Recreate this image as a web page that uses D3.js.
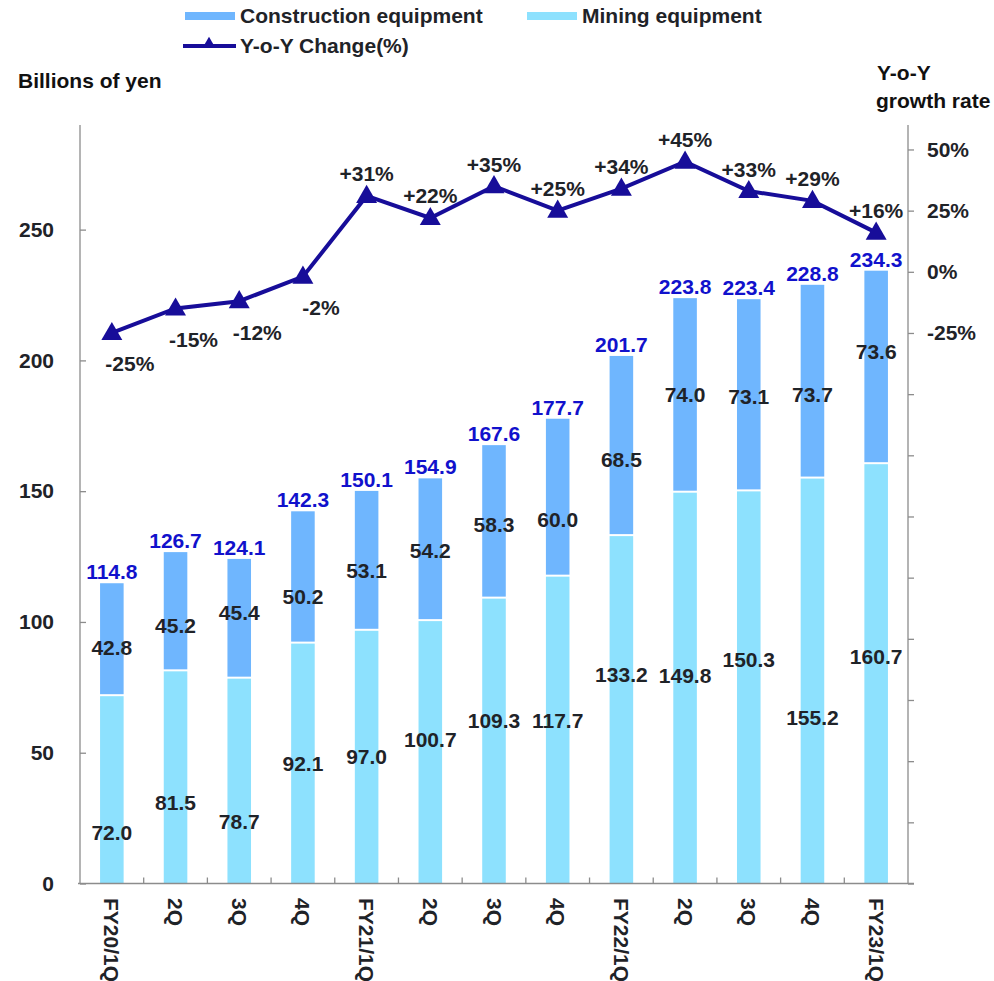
<!DOCTYPE html>
<html>
<head>
<meta charset="utf-8">
<script src="https://cdn.jsdelivr.net/npm/d3@7"></script>
<style>
  html, body { margin: 0; padding: 0; background: #fff; }
  svg { display: block; font-family: "Liberation Sans", Arial, sans-serif; font-weight: bold; }
</style>
</head>
<body>
<svg id="chart" width="994" height="981"></svg>
<script>
// Quarterly sales, billions of yen
const categories = ["FY20/1Q", "2Q", "3Q", "4Q", "FY21/1Q", "2Q", "3Q", "4Q", "FY22/1Q", "2Q", "3Q", "4Q", "FY23/1Q"];
const mining = [72.0, 81.5, 78.7, 92.1, 97.0, 100.7, 109.3, 117.7, 133.2, 149.8, 150.3, 155.2, 160.7];
const construction = [42.8, 45.2, 45.4, 50.2, 53.1, 54.2, 58.3, 60.0, 68.5, 74.0, 73.1, 73.7, 73.6];
const totals = [114.8, 126.7, 124.1, 142.3, 150.1, 154.9, 167.6, 177.7, 201.7, 223.8, 223.4, 228.8, 234.3];
const yoy = [-25, -15, -12, -2, 31, 22, 35, 25, 34, 45, 33, 29, 16];
const leftTicks = [0, 50, 100, 150, 200, 250];
const rightTicks = [-250, -225, -200, -175, -150, -125, -100, -75, -50, -25, 0, 25, 50];
const rightLabelled = [-25, 0, 25, 50];

// Where each value label sits inside its segment (0 = bottom, 1 = top)
const miningLabelAt = [0.27, 0.38, 0.30, 0.50, 0.50, 0.545, 0.57, 0.53, 0.60, 0.53, 0.57, 0.41, 0.54];
const constructionLabelAt = [0.43, 0.38, 0.55, 0.35, 0.43, 0.49, 0.48, 0.36, 0.42, 0.50, 0.49, 0.43, 0.58];

const colConstruction = "#6fb6fe";
const colMining = "#8de1fe";
const colLine = "#170d99";
const colTotal = "#1111cc";
const colText = "#1f2328";
const colAxis = "#8c8c8c";
const fontSize = 21;

const svg = d3.select("#chart");
const plotLeft = 80, plotRight = 908, plotTop = 125, plotBottom = 883.5;

const x = d3.scaleBand().domain(d3.range(categories.length)).range([plotLeft, plotRight])
  .paddingInner(0.63).paddingOuter(0.315);
const y = d3.scaleLinear().domain([0, 290]).range([plotBottom, plotTop]);
const y2 = d3.scaleLinear().domain([-250, 60]).range([plotBottom, plotTop]);
const cx = i => x(i) + x.bandwidth() / 2;

// Stacked bars: mining at the bottom, construction above, thin white gap between
const g = svg.append("g");
g.selectAll("rect.mining").data(mining).join("rect")
  .attr("class", "mining")
  .attr("x", (d, i) => x(i)).attr("width", x.bandwidth())
  .attr("y", d => y(d) + 1).attr("height", d => y(0) - y(d) - 1)
  .attr("fill", colMining);
g.selectAll("rect.construction").data(construction).join("rect")
  .attr("class", "construction")
  .attr("x", (d, i) => x(i)).attr("width", x.bandwidth())
  .attr("y", (d, i) => y(mining[i] + d)).attr("height", (d, i) => y(mining[i]) - y(mining[i] + d) - 1)
  .attr("fill", colConstruction);

// Value axes
const axL = d3.axisLeft(y).tickValues(leftTicks).tickSize(-6).tickPadding(26).tickFormat(d3.format("d"));
const gl = svg.append("g").attr("transform", `translate(${plotLeft},0)`).call(axL);
gl.select(".domain").attr("d", `M0,${plotTop}V${plotBottom}`);

const axR = d3.axisRight(y2).tickValues(rightTicks).tickSize(6).tickPadding(13)
  .tickFormat(d => (rightLabelled.includes(d) ? d + "%" : ""));
const gr = svg.append("g").attr("transform", `translate(${plotRight},0)`).call(axR);
gr.select(".domain").attr("d", `M0,${plotTop}V${plotBottom}`);

[gl, gr].forEach(a => {
  a.selectAll(".domain, .tick line").attr("stroke", colAxis).attr("stroke-width", 1.3);
  a.selectAll(".tick text").attr("fill", colText).attr("font-size", fontSize)
    .attr("font-family", "Liberation Sans, Arial, sans-serif").attr("font-weight", "bold");
});

// Category axis
const gx = svg.append("g");
gx.append("line").attr("x1", plotLeft - 2).attr("x2", plotRight + 6).attr("y1", plotBottom).attr("y2", plotBottom)
  .attr("stroke", colAxis).attr("stroke-width", 1.3);
gx.selectAll("line.sep").data(d3.range(1, categories.length)).join("line")
  .attr("class", "sep")
  .attr("x1", k => plotLeft + k * x.step()).attr("x2", k => plotLeft + k * x.step())
  .attr("y1", plotBottom).attr("y2", plotBottom - 6)
  .attr("stroke", colAxis).attr("stroke-width", 1.3);
gx.selectAll("text").data(categories).join("text")
  .attr("transform", (d, i) => `translate(${cx(i)},898) rotate(90)`)
  .attr("text-anchor", "start").attr("dominant-baseline", "central")
  .attr("font-size", fontSize).attr("fill", colText).text(d => d);

// Segment value labels
svg.append("g").selectAll("text").data(mining).join("text")
  .attr("x", (d, i) => cx(i)).attr("y", (d, i) => y(d * miningLabelAt[i]))
  .attr("text-anchor", "middle").attr("dominant-baseline", "central")
  .attr("font-size", fontSize).attr("fill", colText).text(d => d.toFixed(1));
svg.append("g").selectAll("text").data(construction).join("text")
  .attr("x", (d, i) => cx(i)).attr("y", (d, i) => y(mining[i] + d * constructionLabelAt[i]))
  .attr("text-anchor", "middle").attr("dominant-baseline", "central")
  .attr("font-size", fontSize).attr("fill", colText).text(d => d.toFixed(1));
svg.append("g").selectAll("text").data(totals).join("text")
  .attr("x", (d, i) => cx(i)).attr("y", d => y(d) - 4)
  .attr("text-anchor", "middle")
  .attr("font-size", fontSize).attr("fill", colTotal).text(d => d.toFixed(1));

// Y-o-Y line
const line = d3.line().x((d, i) => cx(i)).y(d => y2(d));
svg.append("path").datum(yoy).attr("d", line)
  .attr("fill", "none").attr("stroke", colLine).attr("stroke-width", 4).attr("stroke-linejoin", "miter");
const tri = d3.symbol().type(d3.symbolTriangle).size(190);
svg.append("g").selectAll("path").data(yoy).join("path")
  .attr("transform", (d, i) => `translate(${cx(i)},${y2(d) + 1})`)
  .attr("d", tri).attr("fill", colLine);
svg.append("g").selectAll("text").data(yoy).join("text")
  .attr("x", (d, i) => cx(i) + (d < 0 ? 18 : 0))
  .attr("y", d => y2(d) + (d < 0 ? 31 : -22))
  .attr("text-anchor", "middle").attr("dominant-baseline", "central")
  .attr("font-size", fontSize).attr("fill", colText)
  .text(d => (d > 0 ? "+" : "") + d + "%");

// Axis titles
svg.append("text").attr("x", 18).attr("y", 88).attr("font-size", fontSize).attr("fill", "#111").text("Billions of yen");
svg.append("text").attr("x", 877).attr("y", 80).attr("font-size", fontSize).attr("fill", "#111").text("Y-o-Y");
svg.append("text").attr("x", 876).attr("y", 108).attr("font-size", fontSize).attr("fill", "#111").text("growth rate");

// Legend
const lg = svg.append("g");
lg.append("rect").attr("x", 185).attr("y", 12).attr("width", 50).attr("height", 8).attr("fill", colConstruction);
lg.append("text").attr("x", 240).attr("y", 23).attr("font-size", fontSize).attr("fill", colText).text("Construction equipment");
lg.append("rect").attr("x", 527).attr("y", 12).attr("width", 50).attr("height", 8).attr("fill", colMining);
lg.append("text").attr("x", 582).attr("y", 23).attr("font-size", fontSize).attr("fill", colText).text("Mining equipment");
lg.append("line").attr("x1", 183).attr("x2", 236).attr("y1", 46).attr("y2", 46).attr("stroke", colLine).attr("stroke-width", 4);
lg.append("path").attr("transform", "translate(209,44)").attr("d", d3.symbol().type(d3.symbolTriangle).size(70)).attr("fill", colLine);
lg.append("text").attr("x", 240).attr("y", 53).attr("font-size", fontSize).attr("fill", colText).text("Y-o-Y Change(%)");
</script>
</body>
</html>
